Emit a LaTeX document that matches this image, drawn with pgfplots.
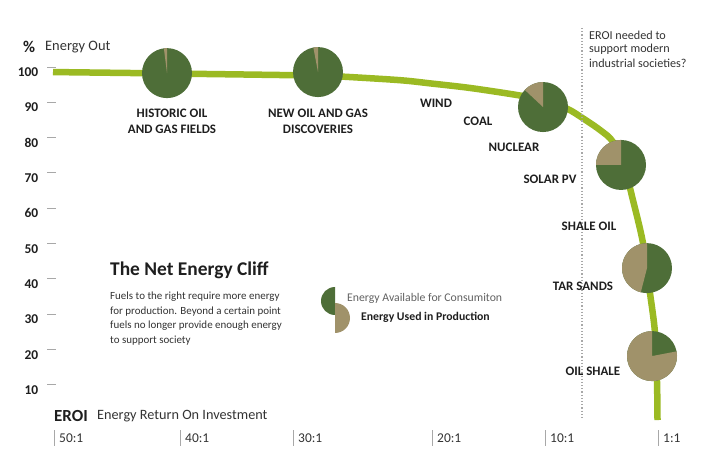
\documentclass[border=0pt]{standalone}
\usepackage{pgfplots}
\pgfplotsset{compat=1.18}
\usepackage{fontspec}
\setmainfont{Carlito}
\definecolor{cliff}{HTML}{9BBA23}
\definecolor{piegreen}{HTML}{4E6E38}
\definecolor{pietan}{HTML}{A0926A}
\definecolor{txt}{HTML}{1E1E1E}
\definecolor{soft}{HTML}{333333}
\definecolor{tickgray}{HTML}{A8A8A8}

\pgfdeclareplotmark{pie}{%
  \pgfpathcircle{\pgfpointorigin}{\pgfplotmarksize}%
  \pgfsetfillcolor{piegreen}\pgfusepath{fill}%
  \pgfmathsetmacro\pieend{90+3.6*\pietan}%
  \pgfpathmoveto{\pgfpointorigin}%
  \pgfpathlineto{\pgfpointpolar{90}{\pgfplotmarksize}}%
  \pgfpatharc{90}{\pieend}{\pgfplotmarksize}%
  \pgfpathclose
  \pgfsetfillcolor{pietan}\pgfusepath{fill}%
}

\begin{document}
\begin{tikzpicture}
\begin{axis}[
  scale only axis, width=719bp, height=476bp,
  xmin=0, xmax=719, ymin=-14.35, ymax=120.4,
  clip=false,
  axis line style={draw=none},
  tick style={draw=none},
  /pgf/number format/assume math mode=true,
  xtick={54,180,293,432,545,658},
  xticklabels={50:1,40:1,30:1,20:1,10:1,1:1},
  xticklabel style={anchor=west, inner sep=0pt, xshift=5bp, yshift=38bp,
     font=\fontsize{13.5}{13.5}\selectfont, text=soft},
  ytick={10,20,...,100},
  yticklabel style={anchor=east, inner sep=0pt, xshift=38.5bp,
     font=\fontsize{13.5}{13.5}\selectfont\bfseries, text=txt},
]
\addplot[cliff, line width=6.5bp, smooth, tension=0.5] coordinates {
 (53,100.0) (167,99.6) (318,99.0) (343,98.7) (400,97.7) (430,96.8)
 (470,95.5) (517,93.5) (545,92.0) (568,89.5) (583,86.9) (600,83.6)
 (613,80.2) (625,72.2) (633,63.7) (643,51.6) (650,37.4) (655,26.2)
 (657,12.3) (657.5,1.5)
};
\addplot[only marks, mark=pie, mark size=25bp,
  visualization depends on={value \thisrow{tan} \as \pietan}]
  table {
x y tan
167 99.7 2
318 100.0 3
543 90.1 13
621 73.7 25
647 44.5 46
652 19.6 78
};
\end{axis}
% annotations (canvas coordinates in bp; y measured from bottom)
\begin{scope}[x=1bp, y=1bp]
\foreach \v in {10,20,...,100} \draw[tickgray, line width=1pt] (47,{55.7+3.533*\v}) -- (56,{55.7+3.533*\v});
\foreach \t in {54,180,293,432,545,658} \draw[tickgray, line width=0.8pt] (\t,30) -- (\t,46);
\draw[tickgray, line width=1.2pt, dotted] (582,448) -- (582,58);
\node[anchor=west, inner sep=0pt, text=txt] at (23,429) {\fontsize{16.5}{16.5}\selectfont\bfseries\%};
\node[anchor=west, inner sep=0pt, text=soft] at (45,429) {\fontsize{14.5}{14.5}\selectfont Energy Out};
\node[anchor=west, inner sep=0pt, text=txt] at (54,60) {\fontsize{17}{17}\selectfont\bfseries EROI};
\node[anchor=west, inner sep=0pt, text=soft] at (97,60) {\fontsize{14.3}{14.3}\selectfont Energy Return On Investment};
\begin{scope}[every node/.style={inner sep=0pt, text=txt, font=\fontsize{13}{16}\selectfont\bfseries, align=center}]
\node at (172,355) {HISTORIC OIL\\AND GAS FIELDS};
\node at (318,355) {NEW OIL AND GAS\\DISCOVERIES};
\node at (436,373) {WIND};
\node at (478,355) {COAL};
\node at (514,329) {NUCLEAR};
\node at (550,297) {SOLAR PV};
\node at (589,250) {SHALE OIL};
\node at (583,190) {TAR SANDS};
\node at (593,105) {OIL SHALE};
\end{scope}
\node[anchor=west, inner sep=0pt, text=txt] at (110,206) {\fontsize{19.5}{19.5}\selectfont\bfseries The Net Energy Cliff};
\begin{scope}[every node/.style={anchor=west, inner sep=0pt, text=soft, font=\fontsize{11}{11}\selectfont}]
\node at (110,179) {Fuels to the right require more energy};
\node at (110,164) {for production. Beyond a certain point};
\node at (110,150) {fuels no longer provide enough energy};
\node at (110,135) {to support society};
\end{scope}
\fill[piegreen] (335,189) arc[start angle=90, end angle=270, radius=14] -- cycle;
\fill[pietan] (335,173) arc[start angle=90, end angle=-90, radius=15] -- cycle;
\node[anchor=west, inner sep=0pt, text=black!62] at (347,178) {\fontsize{11.8}{11.8}\selectfont Energy Available for Consumiton};
\node[anchor=west, inner sep=0pt, text=txt] at (361,159) {\fontsize{11.8}{11.8}\selectfont\bfseries Energy Used in Production};
\begin{scope}[every node/.style={anchor=west, inner sep=0pt, text=soft, font=\fontsize{12.2}{12.2}\selectfont}]
\node at (589,441) {EROI needed to};
\node at (589,427) {support modern};
\node at (589,413) {industrial societies?};
\end{scope}
\end{scope}
\pgfresetboundingbox
\useasboundingbox (0,0) rectangle (719bp,476bp);
\end{tikzpicture}
\end{document}
